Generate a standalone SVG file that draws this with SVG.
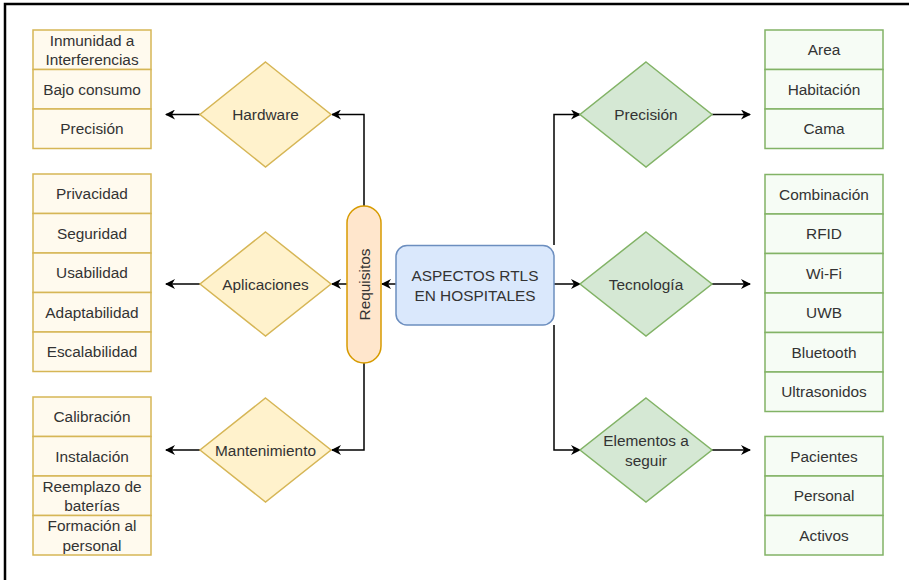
<svg xmlns="http://www.w3.org/2000/svg" width="909" height="580" viewBox="0 0 909 580">
<style>
text{font-family:"Liberation Sans",Arial,Helvetica,sans-serif;font-size:15.4px;fill:#333;text-anchor:middle}
.yb{fill:#fffaee;stroke:#d6b656;stroke-width:1.5}
.yd{fill:#fff2cc;stroke:#d6b656;stroke-width:1.5}
.gb{fill:#f6fcf5;stroke:#82b366;stroke-width:1.5}
.gd{fill:#d5e8d4;stroke:#82b366;stroke-width:1.5}
.ln{fill:none;stroke:#000;stroke-width:1.5}
</style>
<defs>
<marker id="ah" viewBox="0 0 10 10" refX="9" refY="5" markerWidth="10" markerHeight="10" markerUnits="userSpaceOnUse" orient="auto">
<path d="M0,0 L10,5 L0,10 L3,5 Z" fill="#000"/>
</marker>
</defs>
<rect width="909" height="580" fill="#fff"/>
<path d="M5,580 V4 H909" fill="none" stroke="#000" stroke-width="2.5"/>

<g id="connectors">
<path class="ln" d="M200,114.5 H166" marker-end="url(#ah)"/>
<path class="ln" d="M200,284 H166" marker-end="url(#ah)"/>
<path class="ln" d="M200,450 H166" marker-end="url(#ah)"/>
<path class="ln" d="M364,206 V114.5 H332" marker-end="url(#ah)"/>
<path class="ln" d="M347,284 H332" marker-end="url(#ah)"/>
<path class="ln" d="M364,363 V450 H332" marker-end="url(#ah)"/>
<path class="ln" d="M396,284 H382" marker-end="url(#ah)"/>
<path class="ln" d="M554,245 V114.5 H580" marker-end="url(#ah)"/>
<path class="ln" d="M554,284 H580" marker-end="url(#ah)"/>
<path class="ln" d="M554,325 V450 H580" marker-end="url(#ah)"/>
<path class="ln" d="M712,114.5 H750" marker-end="url(#ah)"/>
<path class="ln" d="M712,284 H750" marker-end="url(#ah)"/>
<path class="ln" d="M712,450 H750" marker-end="url(#ah)"/>
</g>

<g id="hw-list">
<rect class="yb" x="33" y="30" width="118" height="39.5"/>
<rect class="yb" x="33" y="69.5" width="118" height="39.5"/>
<rect class="yb" x="33" y="109" width="118" height="39.5"/>
<text x="92" y="45.5">Inmunidad a</text>
<text x="92" y="65">Interferencias</text>
<text x="92" y="94.5">Bajo consumo</text>
<text x="92" y="134">Precisión</text>
</g>
<g id="app-list">
<rect class="yb" x="33" y="174" width="118" height="39.5"/>
<rect class="yb" x="33" y="213.5" width="118" height="39.5"/>
<rect class="yb" x="33" y="253" width="118" height="39.5"/>
<rect class="yb" x="33" y="292.5" width="118" height="39.5"/>
<rect class="yb" x="33" y="332" width="118" height="39.5"/>
<text x="92" y="199">Privacidad</text>
<text x="92" y="238.5">Seguridad</text>
<text x="92" y="278">Usabilidad</text>
<text x="92" y="317.5">Adaptabilidad</text>
<text x="92" y="357">Escalabilidad</text>
</g>
<g id="mant-list">
<rect class="yb" x="33" y="397" width="118" height="39.5"/>
<rect class="yb" x="33" y="436.5" width="118" height="39.5"/>
<rect class="yb" x="33" y="476" width="118" height="39.5"/>
<rect class="yb" x="33" y="515.5" width="118" height="39.5"/>
<text x="92" y="422">Calibración</text>
<text x="92" y="461.5">Instalación</text>
<text x="92" y="491.5">Reemplazo de</text>
<text x="92" y="511">baterías</text>
<text x="92" y="531">Formación al</text>
<text x="92" y="550.5">personal</text>
</g>

<g id="hardware">
<polygon class="yd" points="265.5,62 331,114.5 265.5,167 200,114.5"/>
<text x="265.5" y="120">Hardware</text>
</g>
<g id="aplicaciones">
<polygon class="yd" points="265.5,232 331,284 265.5,336 200,284"/>
<text x="265.5" y="289.5">Aplicaciones</text>
</g>
<g id="mantenimiento">
<polygon class="yd" points="265.5,398 331,450 265.5,502 200,450"/>
<text x="265.5" y="455.5">Mantenimiento</text>
</g>

<g id="requisitos">
<rect x="347" y="206" width="34" height="157" rx="17" ry="17" fill="#ffe6cc" stroke="#d79b00" stroke-width="1.5"/>
<text transform="translate(364,284.5) rotate(-90)" y="5.5">Requisitos</text>
</g>

<g id="aspectos">
<rect x="396" y="245.5" width="158" height="79.5" rx="11" ry="11" fill="#dae8fc" stroke="#6c8ebf" stroke-width="1.5"/>
<text x="475" y="281">ASPECTOS RTLS</text>
<text x="475" y="300.5">EN HOSPITALES</text>
</g>

<g id="precision">
<polygon class="gd" points="646,62 712,114.5 646,167 580,114.5"/>
<text x="646" y="120">Precisión</text>
</g>
<g id="tecnologia">
<polygon class="gd" points="646,232 712,284 646,336 580,284"/>
<text x="646" y="289.5">Tecnología</text>
</g>
<g id="elementos">
<polygon class="gd" points="646,398 712,450 646,502 580,450"/>
<text x="646" y="446">Elementos a</text>
<text x="646" y="465.5">seguir</text>
</g>

<g id="prec-list">
<rect class="gb" x="765" y="30" width="118" height="39.5"/>
<rect class="gb" x="765" y="69.5" width="118" height="39.5"/>
<rect class="gb" x="765" y="109" width="118" height="39.5"/>
<text x="824" y="55">Area</text>
<text x="824" y="94.5">Habitación</text>
<text x="824" y="134">Cama</text>
</g>
<g id="tec-list">
<rect class="gb" x="765" y="174.5" width="118" height="39.5"/>
<rect class="gb" x="765" y="214" width="118" height="39.5"/>
<rect class="gb" x="765" y="253.5" width="118" height="39.5"/>
<rect class="gb" x="765" y="293" width="118" height="39.5"/>
<rect class="gb" x="765" y="332.5" width="118" height="39.5"/>
<rect class="gb" x="765" y="372" width="118" height="39.5"/>
<text x="824" y="199.5">Combinación</text>
<text x="824" y="239">RFID</text>
<text x="824" y="278.5">Wi-Fi</text>
<text x="824" y="318">UWB</text>
<text x="824" y="357.5">Bluetooth</text>
<text x="824" y="397">Ultrasonidos</text>
</g>
<g id="elem-list">
<rect class="gb" x="765" y="436.5" width="118" height="39.5"/>
<rect class="gb" x="765" y="476" width="118" height="39.5"/>
<rect class="gb" x="765" y="515.5" width="118" height="39.5"/>
<text x="824" y="461.5">Pacientes</text>
<text x="824" y="501">Personal</text>
<text x="824" y="540.5">Activos</text>
</g>
</svg>
